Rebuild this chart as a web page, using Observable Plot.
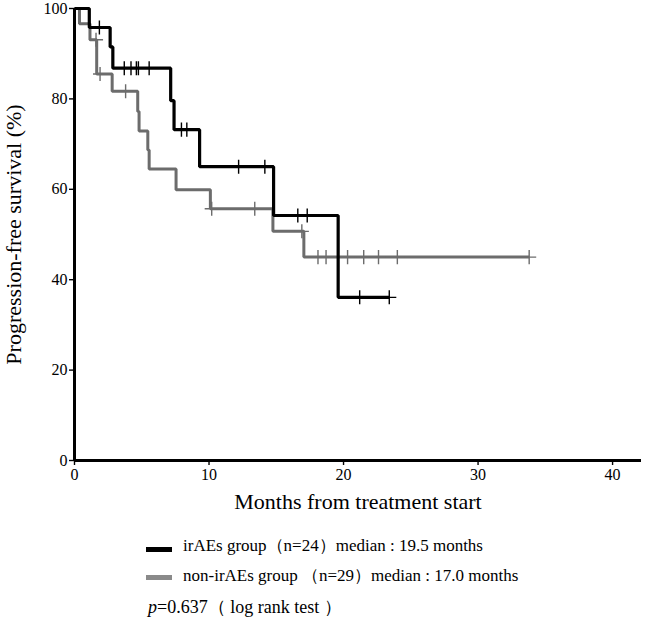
<!DOCTYPE html>
<html>
<head>
<meta charset="utf-8">
<script src="https://cdn.jsdelivr.net/npm/d3@7"></script>
<script src="https://cdn.jsdelivr.net/npm/@observablehq/plot@0.6"></script>
<style>
  html, body { margin: 0; padding: 0; background: #fff; }
  #wrap { position: relative; width: 646px; height: 625px; font-family: "Liberation Serif", "Times New Roman", serif; color: #000; }
  .sw { position: absolute; left: 146px; width: 26px; height: 4.5px; }
  .lg { position: absolute; left: 183px; font-family: "Liberation Serif", "Times New Roman", serif; font-size: 17px; line-height: 20px; white-space: pre; }
</style>
</head>
<body>
<div id="wrap"></div>
<script>
// ---- data (months, % progression-free) ----
const irTimes   = [0, 1.1, 2.65, 2.85, 7.15, 7.4, 9.3, 14.8, 19.6];
const irSurv    = [100, 95.8, 91.5, 86.8, 79.6, 73.2, 65.0, 54.2, 36.1];
const irCensor  = [1.85, 3.7, 4.2, 4.6, 4.75, 5.55, 7.95, 8.35, 12.2, 14.15, 16.6, 17.3, 21.2, 23.4];

const nonTimes  = [0, 0.37, 1.15, 1.65, 2.8, 4.7, 4.8, 5.45, 5.55, 7.55, 10.1, 14.75, 17.05];
const nonSurv   = [100, 96.6, 93.1, 85.5, 81.7, 77.2, 72.9, 68.7, 64.5, 59.9, 55.7, 50.7, 45.0];
const nonCensor = [1.6, 1.9, 3.8, 10.2, 13.4, 16.9, 18.1, 18.7, 20.3, 21.5, 22.6, 24.0, 33.8];

const xTicks = [0, 10, 20, 30, 40];
const yTicks = [0, 20, 40, 60, 80, 100];

const SERIF = "Liberation Serif";

const groups = [
  {name: "irAEs", times: irTimes, surv: irSurv, censor: irCensor, color: "#000000", width: 3.2},
  {name: "non-irAEs", times: nonTimes, surv: nonSurv, censor: nonCensor, color: "#6c6c6c", width: 3}
];

function survAt(times, surv, t) {
  let s = surv[0];
  for (let i = 0; i < times.length; i++) if (times[i] <= t) s = surv[i];
  return s;
}
function curve(g) {
  const pts = g.times.map((t, i) => ({t, s: g.surv[i]}));
  const end = Math.max(...g.censor, ...g.times);
  pts.push({t: end, s: survAt(g.times, g.surv, end)});
  return pts;
}
function censors(g) {
  return g.censor.map(t => ({t, s: survAt(g.times, g.surv, t)}));
}

const drawOrder = [groups[1], groups[0]];
const marks = [];
for (const g of drawOrder) {
  marks.push(Plot.line(curve(g), {x: "t", y: "s", curve: "step-after", stroke: g.color, strokeWidth: g.width, strokeLinejoin: "miter", strokeLinecap: "butt"}));
  marks.push(Plot.dot(censors(g), {x: "t", y: "s", symbol: "plus", r: 4.6, stroke: g.color, strokeWidth: 1.4}));
}

const chart = Plot.plot({
  width: 646,
  height: 525,
  marginLeft: 74,
  marginRight: 5,
  marginTop: 8,
  marginBottom: 65,
  style: {fontFamily: "'Liberation Serif', 'Times New Roman', serif", fontSize: "16px", color: "#000", background: "#fff", overflow: "visible"},
  x: {domain: [0, 42.15]},
  y: {domain: [0, 100]},
  marks: [
    Plot.axisX({ticks: xTicks, tickSize: 5, tickPadding: 3, fontSize: 16, fontFamily: SERIF, label: null, strokeWidth: 1.4}),
    Plot.axisY({ticks: yTicks, tickSize: 5, tickPadding: 2, fontSize: 16, fontFamily: SERIF, label: null, strokeWidth: 1.4}),
    ...marks,
    Plot.ruleX([0], {stroke: "#000", strokeWidth: 3}),
    Plot.ruleY([0], {stroke: "#000", strokeWidth: 3}),
    Plot.text(["Months from treatment start"], {frameAnchor: "bottom", dy: 48, fontSize: 22, fontFamily: SERIF, fill: "#000"}),
    Plot.text(["Progression-free survival (%)"], {frameAnchor: "left", textAnchor: "middle", rotate: -90, dx: -61, fontSize: 22, fontFamily: SERIF, fill: "#000"})
  ]
});

const wrap = document.getElementById("wrap");
wrap.appendChild(chart);

const legendRows = [
  {color: "#000000", text: "irAEs group（n=24）median : 19.5 months", top: 536, sw: 547.3},
  {color: "#8a8a8a", text: "non-irAEs group （n=29）median : 17.0 months", top: 565.5, sw: 575.3}
];
for (const r of legendRows) {
  const s = document.createElement("div");
  s.className = "sw"; s.style.top = r.sw + "px"; s.style.background = r.color;
  wrap.appendChild(s);
  const t = document.createElement("div");
  t.className = "lg"; t.style.top = r.top + "px"; t.textContent = r.text;
  wrap.appendChild(t);
}
const p = document.createElement("div");
p.className = "lg"; p.style.left = "148px"; p.style.top = "597px"; p.style.fontSize = "18px";
p.innerHTML = "<i>p</i>=0.637（ log rank test ）";
wrap.appendChild(p);
</script>
</body>
</html>
